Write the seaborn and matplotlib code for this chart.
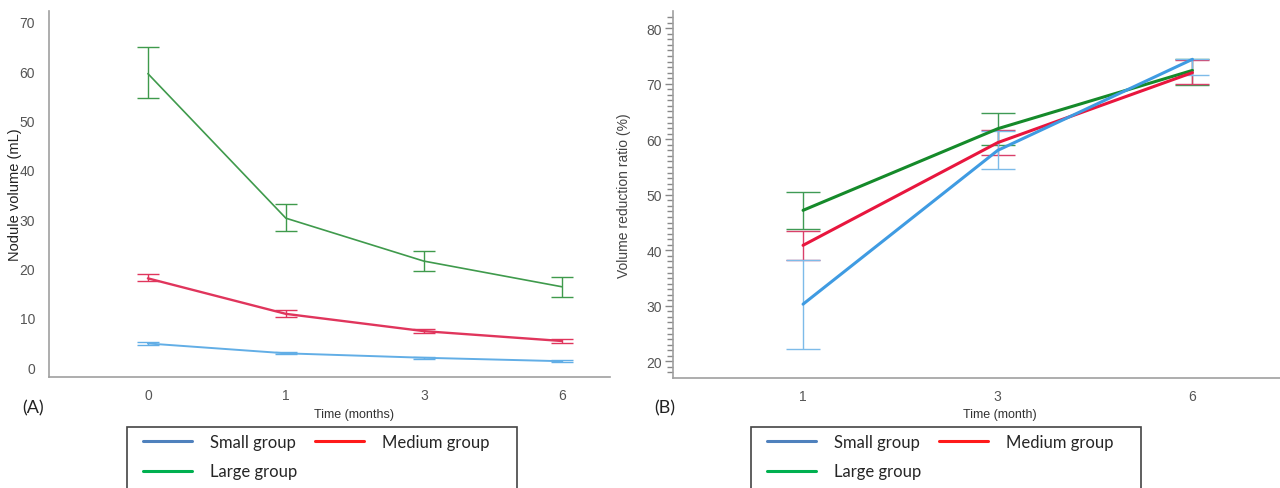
import matplotlib.pyplot as plt
import matplotlib.lines as mlines
import matplotlib.patches as mpatches
import numpy as np
import pandas as pd
import seaborn as sns

# Panel A: nodule volume (mL), mean with 95% CI
months_a = ['0', '1', '3', '6']
small_a = [4.8, 2.8, 1.9, 1.2]
small_a_lo = [4.5, 2.6, 1.7, 1.0]
small_a_hi = [5.1, 3.0, 2.1, 1.4]
medium_a = [18.0, 10.8, 7.3, 5.3]
medium_a_lo = [17.4, 10.2, 6.9, 4.8]
medium_a_hi = [18.8, 11.5, 7.8, 5.8]
large_a = [59.5, 30.2, 21.5, 16.3]
large_a_lo = [54.5, 27.5, 19.4, 14.3]
large_a_hi = [65.0, 33.0, 23.6, 18.3]

# Panel B: volume reduction ratio (%), mean with 95% CI
months_b = ['1', '3', '6']
small_b = [30.3, 58.0, 74.4]
small_b_lo = [22.3, 54.6, 71.5]
small_b_hi = [38.3, 61.4, 74.5]
medium_b = [40.9, 59.4, 72.0]
medium_b_lo = [38.2, 57.2, 70.0]
medium_b_hi = [43.5, 61.6, 74.3]
large_b = [47.2, 61.9, 72.4]
large_b_lo = [43.8, 58.9, 69.8]
large_b_hi = [50.5, 64.8, 74.5]

groups = ['Small group', 'Medium group', 'Large group']

sns.set_theme(style='white')
plt.rcParams['font.family'] = ['Liberation Sans Narrow', 'Liberation Sans', 'DejaVu Sans']

fig = plt.figure(figsize=(12.8, 4.89), dpi=100)
W, H = 1280, 489


def px_axes(x0, y0, x1, y1):
    return fig.add_axes([x0 / W, 1 - y1 / H, (x1 - x0) / W, (y1 - y0) / H])


def draw_panel(ax, months, series, line_cols, err_cols, lws, elw, cap):
    pos = np.arange(len(months))
    for (mean, lo, hi), lc, ec, lw in zip(series, line_cols, err_cols, lws):
        mean, lo, hi = np.array(mean), np.array(lo), np.array(hi)
        ax.errorbar(pos, mean, yerr=[mean - lo, hi - mean], fmt='none',
                    ecolor=ec, elinewidth=elw, capsize=cap, capthick=elw, zorder=2)
        d = pd.DataFrame({'pos': pos, 'val': mean})
        sns.lineplot(data=d, x='pos', y='val', color=lc, linewidth=lw, ax=ax, zorder=3)
    ax.set_xticks(pos)
    ax.set_xticklabels(months)
    for s in ['top', 'right']:
        ax.spines[s].set_visible(False)
    for s in ['left', 'bottom']:
        ax.spines[s].set_color('#a0a0a0')
        ax.spines[s].set_linewidth(1.2)
    ax.tick_params(axis='both', labelsize=10, labelcolor='#555555')
    ax.set_xlabel('')
    ax.set_ylabel('')


# ---------------- panel A ----------------
ax1 = px_axes(49, 12, 610, 378)
draw_panel(ax1, months_a,
           [(large_a, large_a_lo, large_a_hi),
            (medium_a, medium_a_lo, medium_a_hi),
            (small_a, small_a_lo, small_a_hi)],
           ['#3f9a4c', '#e0355c', '#62aee6'],
           ['#3f9a4c', '#e0355c', '#62aee6'],
           [1.2, 1.7, 1.4], 1.0, 8)
ax1.set_xlim(-0.717, 3.35)
ax1.set_ylim(-2, 72.2)
ax1.set_yticks(range(0, 71, 10))
ax1.tick_params(axis='y', length=0, pad=10)
ax1.tick_params(axis='x', length=0, pad=8)
ax1.set_ylabel('Nodule volume (mL)', fontsize=10.5, color='#222222')
ax1.yaxis.set_label_coords(-27 / 561, 0.5)

# ---------------- panel B ----------------
ax2 = px_axes(673, 12, 1282, 379)
draw_panel(ax2, months_b,
           [(large_b, large_b_lo, large_b_hi),
            (medium_b, medium_b_lo, medium_b_hi),
            (small_b, small_b_lo, small_b_hi)],
           ['#158a2a', '#e8163e', '#3f9be2'],
           ['#3f9a55', '#d9406a', '#7dbbe9'],
           [2.2, 2.2, 2.2], 1.0, 12)
ax2.set_xlim(-0.668, 2.46)
ax2.set_ylim(17.0, 83.1)
ax2.set_yticks(range(20, 81, 10))
ax2.set_yticks(range(18, 83), minor=True)
ax2.tick_params(axis='y', which='major', left=True, length=6, width=1, color='#888888', pad=2)
ax2.tick_params(axis='y', which='minor', left=True, length=4, width=1, color='#888888')
ax2.tick_params(axis='x', length=0, pad=8)
ax2.set_ylabel('Volume reduction ratio (%)', fontsize=10, color='#444444')
ax2.yaxis.set_label_coords(-42 / 609, 0.5)

# captions and x titles
fig.text(33 / W, 1 - 408 / H, '(A)', ha='center', va='center', fontsize=13,
         family=['Lato', 'DejaVu Sans'], color='#222222')
fig.text(665 / W, 1 - 408 / H, '(B)', ha='center', va='center', fontsize=13,
         family=['Lato', 'DejaVu Sans'], color='#222222')
fig.text(354 / W, 1 - 415 / H, 'Time (months)', ha='center', va='center', fontsize=9, color='#333333')
fig.text(1000 / W, 1 - 415 / H, 'Time (month)', ha='center', va='center', fontsize=9, color='#333333')

# legends (below each panel), frame drawn as a plain box
leg_cols = ['#4f81bd', '#ff1a1a', '#00b050']
handles = [mlines.Line2D([], [], color=c, lw=2.2) for c in leg_cols]
order = [0, 2, 1]
fs = 12
for x0 in (127, 751):
    box = mpatches.Rectangle((x0 / W, 1 - 495 / H), 390 / W, 67 / H,
                             transform=fig.transFigure, fill=False,
                             edgecolor='#444444', linewidth=1.2)
    fig.patches.append(box)
    fig.legend([handles[i] for i in order], [groups[i] for i in order],
               ncol=2, loc='upper left',
               bbox_to_anchor=((x0 + 16) / W, 1 - 435 / H),
               borderaxespad=0, borderpad=0, frameon=False,
               prop={'family': ['Lato', 'DejaVu Sans'], 'size': fs},
               handlelength=2.95, handletextpad=1.05, labelspacing=0.8,
               columnspacing=1.1)

fig.savefig('out.png', dpi=100)
